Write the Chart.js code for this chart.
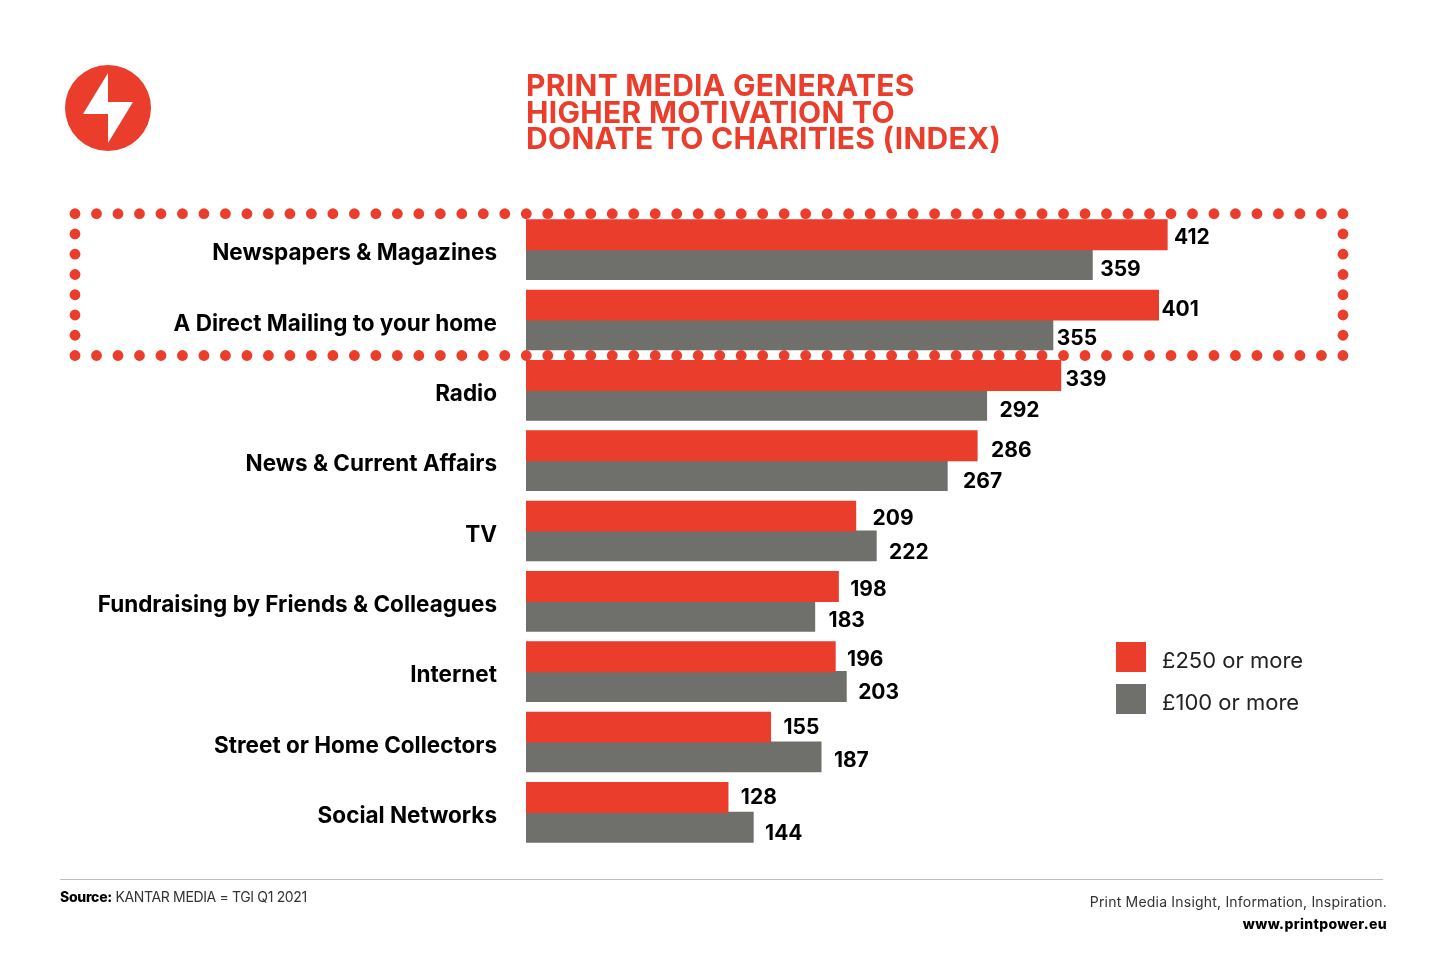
<!DOCTYPE html>
<html>
<head>
<meta charset="utf-8">
<title>Print media generates higher motivation to donate to charities</title>
<script src="https://cdn.jsdelivr.net/npm/chart.js@4/dist/chart.umd.min.js"></script>
<style>
body { margin: 0; background: #fff; width: 1440px; height: 960px; overflow: hidden; font-family: Inter, sans-serif; color: #000; }
#canvas { position: absolute; left: 0; top: 0; }
#logo { position: absolute; left: 65px; top: 65px; }
.t { position: absolute; white-space: nowrap; }
#title { left: 526px; top: 72px; font-size: 30px; line-height: 26.5px; font-weight: 700; color: #ea3d2b; letter-spacing: 0.3px; }
.swatch { position: absolute; left: 1116px; width: 30px; height: 30px; }
.legendText { left: 1162px; font-size: 22px; line-height: 30px; font-weight: 400; color: #222; }
#rule { position: absolute; left: 60px; top: 879px; width: 1323px; height: 1px; background: #bdbdbd; }
#source { left: 60px; top: 888px; font-size: 14px; line-height: 18px; color: #333; letter-spacing: -0.35px; }
#source b { color: #000; font-weight: 800; letter-spacing: -0.3px; }
#strap { right: 53px; top: 893px; font-size: 14px; line-height: 18px; color: #333; letter-spacing: 0.2px; }
#url { right: 53px; top: 915px; font-size: 14px; line-height: 18px; font-weight: 800; letter-spacing: 0.35px; }
</style>
</head>
<body>
<canvas id="canvas" width="1440" height="960"></canvas>
<svg id="logo" width="86" height="86" viewBox="65 65 86 86">
    <circle cx="108" cy="108" r="43" fill="#ea3d2b"/>
    <path d="M108 73 L83 114 H108 V143 L133 102 H108 Z" fill="#fff"/>
</svg>
<div id="title" class="t">PRINT MEDIA GENERATES<br>HIGHER MOTIVATION TO<br>DONATE TO CHARITIES (INDEX)</div>
<div class="swatch" style="top:642px;background:#ea3d2b"></div>
<div class="t legendText" style="top:645px">£250 or more</div>
<div class="swatch" style="top:684px;background:#6f6f6b"></div>
<div class="t legendText" style="top:687px">£100 or more</div>
<div id="rule"></div>
<div id="source" class="t"><b>Source:</b> KANTAR MEDIA = TGI Q1 2021</div>
<div id="strap" class="t">Print Media Insight, Information, Inspiration.</div>
<div id="url" class="t">www.printpower.eu</div>
<script>
var categories = ["Newspapers & Magazines", "A Direct Mailing to your home", "Radio", "News & Current Affairs", "TV", "Fundraising by Friends & Colleagues", "Internet", "Street or Home Collectors", "Social Networks"];

// index values as printed next to the bars
var printed250 = [412, 401, 339, 286, 209, 198, 196, 155, 128];
var printed100 = [359, 355, 292, 267, 222, 183, 203, 187, 144];

// bar lengths as drawn in the picture: 412 and 355 are drawn shorter than printed
var drawn250 = [406.5, 401, 339, 286, 209, 198, 196, 155, 128];
var drawn100 = [359, 334, 292, 267, 222, 183, 203, 187, 144];

// value labels are placed by hand in the picture, so each has its own nudge from the bar end
var nudgeX250 = [7, 3, 5, 14, 17, 12, 12, 13, 13];
var nudgeY250 = [3, 5, 4, 5, 3, 3, 3, 1, 0];
var nudgeX100 = [8, 4, 13, 16, 13, 14, 12, 13, 12];
var nudgeY100 = [5, 4, 5, 6, 7, 4, 6, 4, 6];

var dottedFrame = {
    id: 'dottedFrame',
    beforeDatasetsDraw: function(chart) {
        var ctx = chart.ctx;
        var dot = function(x, y) {
            ctx.beginPath();
            ctx.arc(x, y, 5.4, 0, Math.PI * 2);
            ctx.fill();
        };
        ctx.save();
        ctx.fillStyle = '#ea3d2b';
        for (var i = 0; i < 60; i++) {
            dot(75 + i * 21.49, 213.7);
            dot(75 + i * 21.49, 355.5);
        }
        for (var j = 1; j < 7; j++) {
            dot(75, 213.7 + j * 20.26);
            dot(1343, 213.7 + j * 20.26);
        }
        ctx.restore();
    }
};

var valueLabels = {
    id: 'valueLabels',
    afterDatasetsDraw: function(chart) {
        var ctx = chart.ctx;
        ctx.save();
        ctx.fillStyle = '#000';
        ctx.font = '700 21px Inter';
        ctx.textAlign = 'left';
        ctx.textBaseline = 'middle';
        chart.data.datasets.forEach(function(ds, d) {
            chart.getDatasetMeta(d).data.forEach(function(bar, i) {
                ctx.fillText(ds.printed[i], bar.x + ds.nudgeX[i], bar.y + ds.nudgeY[i]);
            });
        });
        ctx.restore();
    }
};

var config = {
    type: 'bar',
    data: {
        labels: categories,
        datasets: [{
            label: "£250 or more",
            backgroundColor: '#ea3d2b',
            inflateAmount: 0.6,
            data: drawn250,
            printed: printed250,
            nudgeX: nudgeX250,
            nudgeY: nudgeY250
        }, {
            label: "£100 or more",
            backgroundColor: '#6f6f6b',
            inflateAmount: 0.6,
            data: drawn100,
            printed: printed100,
            nudgeX: nudgeX100,
            nudgeY: nudgeY100
        }]
    },
    options: {
        indexAxis: 'y',
        responsive: false,
        animation: false,
        layout: { padding: { top: 214.5, bottom: 112.5, right: 125.5 } },
        categoryPercentage: 0.845,
        barPercentage: 1,
        plugins: {
            legend: { display: false },
            tooltip: { enabled: false }
        },
        scales: {
            x: { display: false, min: 0, max: 500 },
            y: {
                afterFit: function(scale) { scale.width = 526; },
                grid: { display: false },
                border: { display: false },
                ticks: {
                    padding: 21,
                    labelOffset: 4,
                    color: '#000',
                    font: { family: 'Inter', size: 22.5, weight: '700' }
                }
            }
        }
    },
    plugins: [dottedFrame, valueLabels]
};

window.onload = function() {
    window.myBars = new Chart(document.getElementById("canvas"), config);
};
</script>
</body>
</html>
